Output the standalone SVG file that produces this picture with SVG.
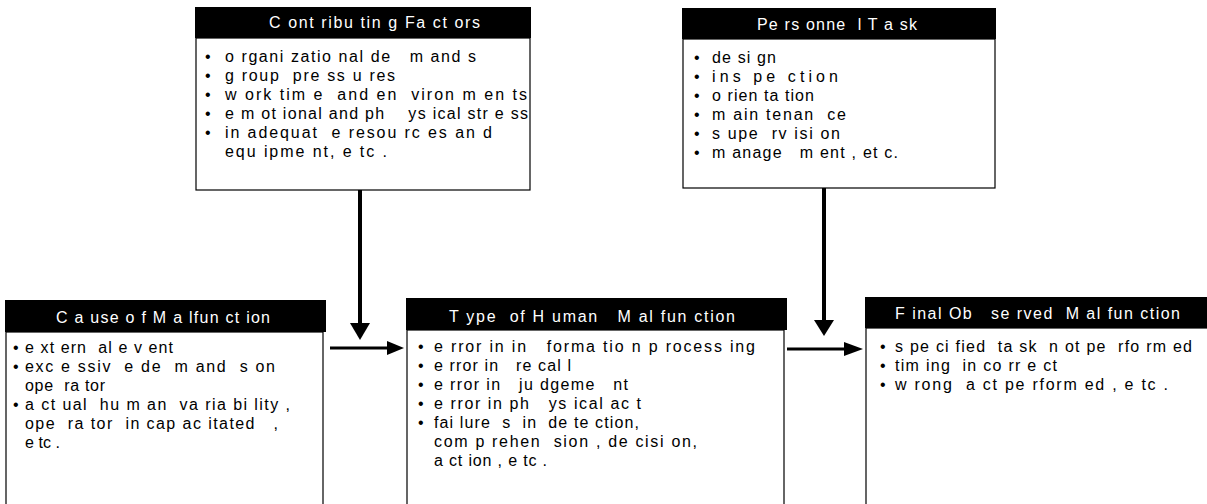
<svg xmlns="http://www.w3.org/2000/svg" width="1207" height="504" viewBox="0 0 1207 504" xml:space="preserve">
<style>
text{font-family:"Liberation Sans",Arial,sans-serif;font-size:16px;white-space:pre}
.hd{fill:#000}
.body{fill:#fff;stroke:#000;stroke-width:1.2}
.ht{fill:#fff}
.bt{fill:#000}
.ln{stroke:#000;fill:none}
.ah{fill:#000}
</style>
<rect width="1207" height="504" fill="#fff"/>
<g id="connectors">
<line class="ln" x1="360" y1="190" x2="360" y2="325" stroke-width="4"/>
<polygon class="ah" points="350,323 370,323 360,340"/>
<line class="ln" x1="824" y1="188" x2="824" y2="322" stroke-width="4"/>
<polygon class="ah" points="814,320 834,320 824,336"/>
<line class="ln" x1="330" y1="348" x2="390" y2="348" stroke-width="3"/>
<polygon class="ah" points="387,341 387,355 404,348"/>
<line class="ln" x1="787" y1="349" x2="846" y2="349" stroke-width="3"/>
<polygon class="ah" points="844,342 844,356 863,349"/>
</g>
<g id="contributing-factors">
<rect class="body" x="196" y="38" width="334" height="152"/>
<rect class="hd" x="195" y="7" width="336" height="31"/>
<text class="ht" x="269" y="28" textLength="211" lengthAdjust="spacing">C ont ribu tin g Fa ct ors</text>
<text class="bt" x="205" y="62">•</text><text class="bt" x="225" y="62" textLength="251" lengthAdjust="spacing">o rgani zatio nal de   m and s</text>
<text class="bt" x="205" y="81">•</text><text class="bt" x="225" y="81" textLength="170" lengthAdjust="spacing">g roup  pre ss u res</text>
<text class="bt" x="205" y="100">•</text><text class="bt" x="225" y="100" textLength="302" lengthAdjust="spacing">w ork tim e  and en  viron m en ts</text>
<text class="bt" x="205" y="119">•</text><text class="bt" x="225" y="119" textLength="303" lengthAdjust="spacing">e m ot ional and ph    ys ical str e ss</text>
<text class="bt" x="205" y="138">•</text><text class="bt" x="225" y="138" textLength="267" lengthAdjust="spacing">in adequat  e resou rc es an d</text>
<text class="bt" x="225" y="157" textLength="162" lengthAdjust="spacing">equ ipme nt, e tc .</text>
</g>
<g id="personnel-task">
<rect class="body" x="683" y="39" width="312" height="149"/>
<rect class="hd" x="682" y="8" width="314" height="31"/>
<text class="ht" x="757" y="30" textLength="160" lengthAdjust="spacing">Pe rs onne  l T a sk</text>
<text class="bt" x="694" y="63">•</text><text class="bt" x="712" y="63" textLength="64" lengthAdjust="spacing">de si gn</text>
<text class="bt" x="694" y="82">•</text><text class="bt" x="712" y="82" textLength="126" lengthAdjust="spacing">ins pe ction</text>
<text class="bt" x="694" y="101">•</text><text class="bt" x="712" y="101" textLength="102" lengthAdjust="spacing">o rien ta tion</text>
<text class="bt" x="694" y="120">•</text><text class="bt" x="712" y="120" textLength="134" lengthAdjust="spacing">m ain tenan  ce</text>
<text class="bt" x="694" y="139">•</text><text class="bt" x="712" y="139" textLength="128" lengthAdjust="spacing">s upe  rv isi on</text>
<text class="bt" x="694" y="158">•</text><text class="bt" x="712" y="158" textLength="186" lengthAdjust="spacing">m anage   m ent , et c.</text>
</g>
<g id="cause-of-malfunction">
<rect class="body" x="6" y="332" width="317" height="180"/>
<rect class="hd" x="5" y="300" width="321" height="32"/>
<text class="ht" x="56" y="323" textLength="214" lengthAdjust="spacing">C a use o f M a lfun ct ion</text>
<text class="bt" x="13" y="353">•</text><text class="bt" x="25" y="353" textLength="148" lengthAdjust="spacing">e xt ern  al e v ent</text>
<text class="bt" x="13" y="372">•</text><text class="bt" x="25" y="372" textLength="250" lengthAdjust="spacing">exc e ssiv  e de  m and  s on</text>
<text class="bt" x="25" y="391" textLength="80" lengthAdjust="spacing">ope  ra tor</text>
<text class="bt" x="13" y="410">•</text><text class="bt" x="25" y="410" textLength="265" lengthAdjust="spacing">a ct ual  hu m an  va ria bi lity ,</text>
<text class="bt" x="25" y="429" textLength="253" lengthAdjust="spacing">ope  ra tor  in cap ac itated   ,</text>
<text class="bt" x="25" y="448" textLength="35" lengthAdjust="spacing">e tc .</text>
</g>
<g id="type-of-human-malfunction">
<rect class="body" x="407" y="330" width="377" height="182"/>
<rect class="hd" x="406" y="298" width="381" height="32"/>
<text class="ht" x="449" y="322" textLength="286" lengthAdjust="spacing">T ype  of H uman   M al fun ction</text>
<text class="bt" x="418" y="352">•</text><text class="bt" x="434" y="352" textLength="321" lengthAdjust="spacing">e rror in in   forma tio n p rocess ing</text>
<text class="bt" x="418" y="371">•</text><text class="bt" x="434" y="371" textLength="137" lengthAdjust="spacing">e rror in   re cal l</text>
<text class="bt" x="418" y="390">•</text><text class="bt" x="434" y="390" textLength="194" lengthAdjust="spacing">e rror in   ju dgeme   nt</text>
<text class="bt" x="418" y="409">•</text><text class="bt" x="434" y="409" textLength="207" lengthAdjust="spacing">e rror in ph   ys ical ac t</text>
<text class="bt" x="418" y="428">•</text><text class="bt" x="434" y="428" textLength="205" lengthAdjust="spacing">fai lure  s  in  de te ction,</text>
<text class="bt" x="434" y="447" textLength="263" lengthAdjust="spacing">com p rehen  sion , de cisi on,</text>
<text class="bt" x="434" y="466" textLength="113" lengthAdjust="spacing">a ct ion , e tc .</text>
</g>
<g id="final-observed-malfunction">
<rect class="body" x="866" y="328" width="350" height="184"/>
<rect class="hd" x="865" y="297" width="350" height="31"/>
<text class="ht" x="895" y="319" textLength="285" lengthAdjust="spacing">F inal Ob   se rved  M al fun ction</text>
<text class="bt" x="880" y="352">•</text><text class="bt" x="895" y="352" textLength="297" lengthAdjust="spacing">s pe ci fied  ta sk  n ot pe  rfo rm ed</text>
<text class="bt" x="880" y="371">•</text><text class="bt" x="895" y="371" textLength="162" lengthAdjust="spacing">tim ing  in co rr e ct</text>
<text class="bt" x="880" y="390">•</text><text class="bt" x="895" y="390" textLength="273" lengthAdjust="spacing">w rong  a ct pe rform ed , e tc .</text>
</g>
</svg>
